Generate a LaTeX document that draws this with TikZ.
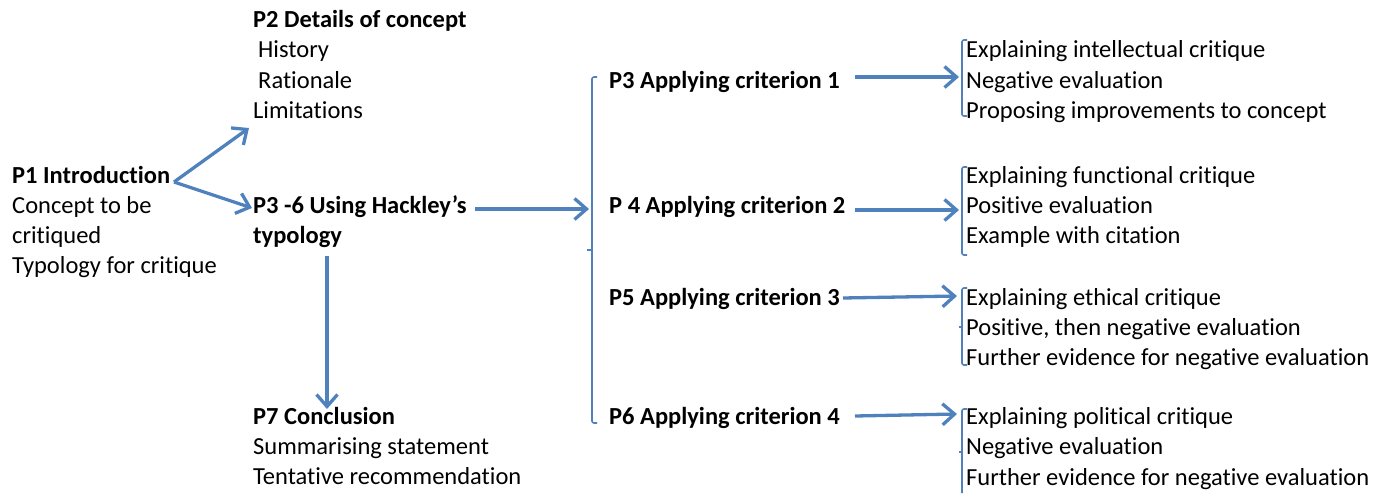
\documentclass[tikz,border=0pt]{standalone}
\usepackage{fontspec}
\setmainfont{Carlito}[Ligatures={NoCommon,NoContextual}]
\usetikzlibrary{arrows.meta}
\definecolor{lineblue}{RGB}{79,129,189}
\tikzset{
  txt/.style={anchor=base west, inner sep=0pt, font=\fontsize{24.5}{30}\selectfont, text=black},
  hd/.style={txt, font=\fontsize{24.5}{30}\selectfont\bfseries},
  conn/.style={draw=lineblue, line width=3.3pt, -{Straight Barb[length=12pt,width=21pt]}},
  brk/.style={draw=lineblue, line width=1.6pt, rounded corners=2pt}
}
\begin{document}
\begin{tikzpicture}[x=1pt,y=-1pt]
\useasboundingbox (0,0) rectangle (1377,493);
% P1
\node[hd]  (p1)  at (12,183) {P1 Introduction};
\node[txt] (p1b) at (12,213) {Concept to be};
\node[txt] (p1c) at (12,243) {critiqued};
\node[txt] (p1d) at (12,273) {Typology for critique};
% P2
\node[hd]  (p2)  at (253,27) {P2 Details of concept};
\node[txt] (p2b) at (258,57) {History};
\node[txt] (p2c) at (258,88) {Rationale};
\node[txt] (p2d) at (253,118) {Limitations};
% P3-6
\node[hd]  (p36)  at (253,213) {P3 -6 Using Hackley’s};
\node[hd]  (p36b) at (253,243) {typology};
% P7
\node[hd]  (p7)  at (253,424) {P7 Conclusion};
\node[txt] (p7b) at (253,454) {Summarising statement};
\node[txt] (p7c) at (253,484) {Tentative recommendation};
% middle
\node[hd] (c1) at (609,88)  {P3 Applying criterion 1};
\node[hd] (c2) at (609,213) {P 4 Applying criterion 2};
\node[hd] (c3) at (609,305) {P5 Applying criterion 3};
\node[hd] (c4) at (609,424) {P6 Applying criterion 4};
% right lists
\node[txt] (r1a) at (966,57)  {Explaining intellectual critique};
\node[txt] (r1b) at (966,88)  {Negative evaluation};
\node[txt] (r1c) at (966,118) {Proposing improvements to concept};
\node[txt] (r2a) at (966,183) {Explaining functional critique};
\node[txt] (r2b) at (966,213) {Positive evaluation};
\node[txt] (r2c) at (966,243) {Example with citation};
\node[txt] (r3a) at (966,305) {Explaining ethical critique};
\node[txt] (r3b) at (966,335) {Positive, then negative evaluation};
\node[txt] (r3c) at (966,365) {Further evidence for negative evaluation};
\node[txt] (r4a) at (966,424) {Explaining political critique};
\node[txt] (r4b) at (966,454) {Negative evaluation};
\node[txt] (r4c) at (966,485) {Further evidence for negative evaluation};
% connector ends
\coordinate (p1out) at (174,182);
\coordinate (p2in) at (249,128);
\coordinate (p36in) at (252,208);
\coordinate (p36out) at (475,209);
\coordinate (bigin) at (589,209);
\coordinate (p36down) at (327,256);
\coordinate (p7in) at (327,409);
\coordinate (c1out) at (855,77);   \coordinate (g1in) at (959,77);
\coordinate (c2out) at (855,210);  \coordinate (g2in) at (959,210);
\coordinate (c3out) at (843,298);  \coordinate (g3in) at (957,296);
\coordinate (c4out) at (855,416);  \coordinate (g4in) at (957,414);
% big bracket
\draw[brk] (597,77) -- (592,77) -- (592,423) -- (597,423);
\draw[draw=lineblue, line width=1.6pt] (592,250) -- (587,250);
% right brackets
\draw[brk] (967,40) -- (962,40) -- (962,116) -- (967,116);
\draw[brk] (967,167) -- (962,167) -- (962,255) -- (967,255);
\draw[brk] (967,288) -- (962,288) -- (962,365) -- (967,365);
\draw[draw=lineblue, line width=1.6pt] (962,327) -- (959,327);
\draw[brk] (967,409) -- (962,409) -- (962,493);
\draw[draw=lineblue, line width=1.6pt] (962,452) -- (959,452);
% connectors
\draw[conn] (p1out) -- (p2in);
\draw[conn] (p1out) -- (p36in);
\draw[conn] (p36out) -- (bigin);
\draw[conn] (p36down) -- (p7in);
\draw[conn] (c1out) -- (g1in);
\draw[conn] (c2out) -- (g2in);
\draw[conn] (c3out) -- (g3in);
\draw[conn] (c4out) -- (g4in);
\end{tikzpicture}
\end{document}
